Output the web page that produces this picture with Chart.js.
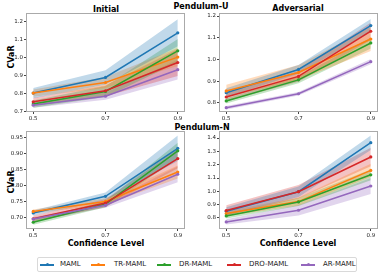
<!DOCTYPE html>
<html>
<head>
<meta charset="utf-8">
<script src="https://cdn.jsdelivr.net/npm/chart.js@4.4.0/dist/chart.umd.min.js"></script>
<style>
  body { margin: 0; width: 382px; height: 274px; background: #fff; position: relative; overflow: hidden; font-family: "DejaVu Sans", sans-serif; }
  .panel { position: absolute; }
  .lbl { position: absolute; font-weight: bold; font-size: 8px; color: #000; white-space: nowrap; transform: translate(-50%, -50%); }
  .ylbl { transform: translate(-50%, -50%) rotate(-90deg); }
  .legend { position: absolute; left: 37px; top: 257px; width: 320px; height: 15px; border: 1px solid #d9d9d9; border-radius: 2px; box-sizing: border-box; }
  .item { position: absolute; top: 0; height: 13px; font-size: 7px; line-height: 13px; color: #222; white-space: nowrap; }
  .item i { position: absolute; top: 6px; height: 1.5px; width: 14px; }
  .item i b { position: absolute; left: 5.5px; top: -1px; width: 3px; height: 3px; border-radius: 50%; background: inherit; }
  .item span { position: absolute; top: 0; white-space: nowrap; }
</style>
</head>
<body>
<div class="lbl" style="left:201px;top:6px">Pendulum-U</div>
<div class="lbl" style="left:106px;top:9px">Initial</div>
<div class="lbl" style="left:298px;top:8px">Adversarial</div>
<div class="lbl" style="left:202px;top:127px">Pendulum-N</div>
<div class="lbl ylbl" style="left:11px;top:57px">CVaR</div>
<div class="lbl ylbl" style="left:11px;top:182px">CVaR</div>
<div class="lbl" style="left:106px;top:243px">Confidence Level</div>
<div class="lbl" style="left:298px;top:243px">Confidence Level</div>

<div class="panel" id="p1"><canvas id="c1"></canvas></div>
<div class="panel" id="p2"><canvas id="c2"></canvas></div>
<div class="panel" id="p3"><canvas id="c3"></canvas></div>
<div class="panel" id="p4"><canvas id="c4"></canvas></div>

<div class="legend" id="legend"></div>

<script>
const levels = [0.5, 0.7, 0.9];
const methods = ["MAML", "TR-MAML", "DR-MAML", "DRO-MAML", "AR-MAML"];
const colors = ["#1f77b4", "#ff7f0e", "#2ca02c", "#d62728", "#9467bd"];

// Pendulum-U, initial
const uInitMean = [[0.800, 0.887, 1.135], [0.800, 0.859, 1.000], [0.739, 0.809, 1.035], [0.752, 0.813, 0.970], [0.733, 0.783, 0.930]];
const uInitSpread = [[0.028, 0.040, 0.075], [0.020, 0.030, 0.050], [0.020, 0.030, 0.065], [0.022, 0.030, 0.075], [0.015, 0.020, 0.055]];
const uInitTicks = [0.7, 0.8, 0.9, 1.0, 1.1, 1.2];

// Pendulum-U, adversarial
const uAdvMean = [[0.847, 0.954, 1.156], [0.855, 0.940, 1.094], [0.809, 0.906, 1.076], [0.827, 0.922, 1.130], [0.778, 0.842, 0.990]];
const uAdvSpread = [[0.020, 0.020, 0.030], [0.028, 0.035, 0.055], [0.012, 0.015, 0.025], [0.020, 0.025, 0.040], [0.008, 0.008, 0.012]];
const uAdvTicks = [0.8, 0.9, 1.0, 1.1, 1.2];

// Pendulum-N, initial
const nInitMean = [[0.714, 0.766, 0.916], [0.719, 0.750, 0.842], [0.685, 0.742, 0.908], [0.696, 0.745, 0.884], [0.695, 0.738, 0.835]];
const nInitSpread = [[0.008, 0.012, 0.040], [0.006, 0.010, 0.020], [0.008, 0.010, 0.025], [0.010, 0.012, 0.030], [0.006, 0.008, 0.025]];
const nInitTicks = [0.70, 0.75, 0.80, 0.85, 0.90, 0.95];

// Pendulum-N, adversarial
const nAdvMean = [[0.850, 0.997, 1.365], [0.833, 0.923, 1.157], [0.815, 0.920, 1.124], [0.856, 0.997, 1.258], [0.770, 0.858, 1.040]];
const nAdvSpread = [[0.030, 0.040, 0.055], [0.020, 0.030, 0.050], [0.020, 0.030, 0.040], [0.040, 0.050, 0.070], [0.020, 0.040, 0.060]];
const nAdvTicks = [0.8, 0.9, 1.0, 1.1, 1.2, 1.3, 1.4];

const font = "DejaVu Sans";
const yAxisW = 22, xAxisH = 12, padTop = 6, padRight = 4;

function alpha(hex, a) {
  const n = parseInt(hex.slice(1), 16);
  return `rgba(${n >> 16},${(n >> 8) & 255},${n & 255},${a})`;
}

const frame = {
  id: "frame",
  afterDraw(chart) {
    const a = chart.chartArea, ctx = chart.ctx;
    ctx.save();
    ctx.strokeStyle = "#aaaaaa";
    ctx.lineWidth = 1;
    ctx.strokeRect(a.left + 0.5, a.top + 0.5, a.right - a.left - 1, a.bottom - a.top - 1);
    ctx.restore();
  }
};

function makePanel(n, box, mean, spread, yMin, yMax, yTicks, dec) {
  const wrap = document.getElementById("p" + n);
  const w = yAxisW + box.w + padRight, h = padTop + box.h + xAxisH;
  wrap.style.left = (box.x - yAxisW) + "px";
  wrap.style.top = (box.y - padTop) + "px";
  const cv = document.getElementById("c" + n);
  cv.width = w; cv.height = h;
  cv.style.width = w + "px"; cv.style.height = h + "px";

  const datasets = [];
  // lines first (drawn on top), last method topmost
  for (let i = mean.length - 1; i >= 0; i--) {
    datasets.push({
      data: levels.map((x, j) => ({ x, y: mean[i][j] })),
      borderColor: colors[i], backgroundColor: colors[i],
      borderWidth: 1.5, pointRadius: 1.6, pointBorderWidth: 0, fill: false, tension: 0
    });
  }
  mean.forEach((m, i) => {
    datasets.push({
      data: levels.map((x, j) => ({ x, y: m[j] + spread[i][j] })),
      borderWidth: 0, pointRadius: 0, fill: false, backgroundColor: alpha(colors[i], 0.28)
    });
    datasets.push({
      data: levels.map((x, j) => ({ x, y: m[j] - spread[i][j] })),
      borderWidth: 0, pointRadius: 0, fill: "-1", backgroundColor: alpha(colors[i], 0.28)
    });
  });

  new Chart(cv, {
    type: "line",
    data: { datasets },
    plugins: [frame],
    options: {
      responsive: false, animation: false, devicePixelRatio: 1,
      layout: { padding: { top: padTop, right: padRight, left: 0, bottom: 0 } },
      plugins: { legend: { display: false }, tooltip: { enabled: false } },
      scales: {
        x: {
          type: "linear", min: 0.48, max: 0.92,
          afterBuildTicks: ax => { ax.ticks = levels.map(v => ({ value: v })); },
          afterFit: ax => { ax.height = xAxisH; },
          grid: { drawOnChartArea: false, tickLength: 2, color: "#444" },
          border: { display: false },
          ticks: { font: { size: 5.5, family: font }, color: "#222", padding: 1, maxRotation: 0, autoSkip: false, callback: v => v.toFixed(1) }
        },
        y: {
          min: yMin, max: yMax,
          afterBuildTicks: ax => { ax.ticks = yTicks.map(v => ({ value: v })); },
          afterFit: ax => { ax.width = yAxisW; },
          grid: { drawOnChartArea: false, tickLength: 2, color: "#444" },
          border: { display: false },
          ticks: { font: { size: 5.5, family: font }, color: "#222", padding: 1, autoSkip: false, callback: v => v.toFixed(dec) }
        }
      }
    }
  });
}

makePanel(1, { x: 26, y: 13, w: 159, h: 99 }, uInitMean, uInitSpread, 0.695, 1.245, uInitTicks, 1);
makePanel(2, { x: 219, y: 13, w: 159, h: 99 }, uAdvMean, uAdvSpread, 0.758, 1.214, uAdvTicks, 1);
makePanel(3, { x: 26, y: 131, w: 159, h: 98 }, nInitMean, nInitSpread, 0.664, 0.970, nInitTicks, 2);
makePanel(4, { x: 219, y: 131, w: 159, h: 98 }, nAdvMean, nAdvSpread, 0.717, 1.453, nAdvTicks, 1);

// legend
const legendPos = [[2, 22], [53, 76], [119, 141], [189, 211], [263, 285]];
const legend = document.getElementById("legend");
methods.forEach((name, i) => {
  const it = document.createElement("div");
  it.className = "item";
  it.style.left = legendPos[i][0] + "px";
  it.innerHTML = `<i style="background:${colors[i]}"><b></b></i><span style="left:${legendPos[i][1] - legendPos[i][0]}px">${name}</span>`;
  legend.appendChild(it);
});
</script>
</body>
</html>
